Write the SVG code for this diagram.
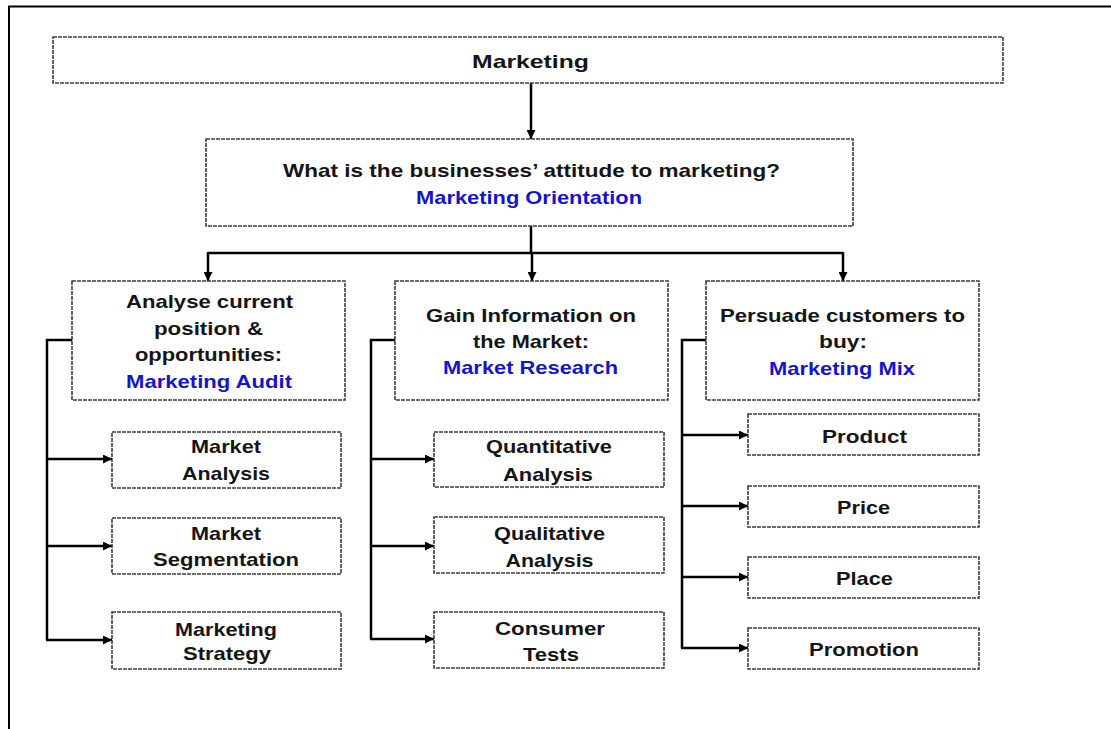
<svg xmlns="http://www.w3.org/2000/svg" width="1111" height="729" viewBox="0 0 1111 729">
<style>
.box{fill:#fff;stroke:#3c3c3c;stroke-width:1.6;stroke-dasharray:4 1}
.t{font-family:"Liberation Sans",Arial,sans-serif;font-weight:bold;font-size:19px;fill:#151515;text-anchor:middle}
.b{fill:#1515cc}
.c{fill:none;stroke:#000;stroke-width:2.5}
.a{marker-end:url(#ah)}
</style>
<defs>
<marker id="ah" viewBox="0 0 10 10" refX="10" refY="5" markerWidth="9" markerHeight="9" markerUnits="userSpaceOnUse" orient="auto">
<path d="M0,0 L10,5 L0,10 z" fill="#000"/>
</marker>
</defs>
<rect width="1111" height="729" fill="#fff"/>
<path d="M8,6.5 H1111 M9,6 V729" stroke="#000" stroke-width="2" fill="none"/>

<g id="connectors">
<path class="c a" d="M531,83 V139"/>
<path class="c" d="M531,226 V253 M208,253 H843"/>
<path class="c a" d="M208,252 V281"/>
<path class="c a" d="M532,252 V281"/>
<path class="c a" d="M843,252 V281"/>
<path class="c" d="M72,340 H47 V640"/>
<path class="c a" d="M47,459 H112"/>
<path class="c a" d="M47,546 H112"/>
<path class="c a" d="M46,640 H112"/>
<path class="c" d="M395,340 H371 V639"/>
<path class="c a" d="M371,459 H434"/>
<path class="c a" d="M371,546 H434"/>
<path class="c a" d="M370,639 H434"/>
<path class="c" d="M706,340 H682 V648"/>
<path class="c a" d="M682,435 H748"/>
<path class="c a" d="M682,506 H748"/>
<path class="c a" d="M682,577 H748"/>
<path class="c a" d="M681,648 H748"/>
</g>

<g id="marketing">
<rect class="box" x="53" y="37" width="950" height="46"/>
<text class="t" x="530.5" y="68" font-size="21" textLength="117" lengthAdjust="spacingAndGlyphs">Marketing</text>
</g>
<g id="orientation">
<rect class="box" x="206" y="139" width="647" height="87"/>
<text class="t" x="531.5" y="177" textLength="497" lengthAdjust="spacingAndGlyphs">What is the businesses’ attitude to marketing?</text>
<text class="t b" x="529" y="204" textLength="226" lengthAdjust="spacingAndGlyphs">Marketing Orientation</text>
</g>

<g id="audit">
<rect class="box" x="72" y="281" width="273" height="119"/>
<text class="t" x="209.5" y="308" textLength="167" lengthAdjust="spacingAndGlyphs">Analyse current</text>
<text class="t" x="208.5" y="335" textLength="109" lengthAdjust="spacingAndGlyphs">position &amp;</text>
<text class="t" x="208.5" y="361" textLength="147" lengthAdjust="spacingAndGlyphs">opportunities:</text>
<text class="t b" x="209" y="388" textLength="166" lengthAdjust="spacingAndGlyphs">Marketing Audit</text>
</g>
<g id="research">
<rect class="box" x="395" y="281" width="273" height="119"/>
<text class="t" x="531" y="322" textLength="210" lengthAdjust="spacingAndGlyphs">Gain Information on</text>
<text class="t" x="531" y="348" textLength="116" lengthAdjust="spacingAndGlyphs">the Market:</text>
<text class="t b" x="530.5" y="374" textLength="175" lengthAdjust="spacingAndGlyphs">Market Research</text>
</g>
<g id="mix">
<rect class="box" x="706" y="281" width="273" height="119"/>
<text class="t" x="842.5" y="322" textLength="245" lengthAdjust="spacingAndGlyphs">Persuade customers to</text>
<text class="t" x="843" y="348" textLength="48" lengthAdjust="spacingAndGlyphs">buy:</text>
<text class="t b" x="842" y="375" textLength="146" lengthAdjust="spacingAndGlyphs">Marketing Mix</text>
</g>

<g id="market-analysis">
<rect class="box" x="112" y="432" width="229" height="56"/>
<text class="t" x="226" y="453" textLength="70" lengthAdjust="spacingAndGlyphs">Market</text>
<text class="t" x="226" y="480" textLength="88" lengthAdjust="spacingAndGlyphs">Analysis</text>
</g>
<g id="market-segmentation">
<rect class="box" x="112" y="518" width="229" height="56"/>
<text class="t" x="226" y="540" textLength="70" lengthAdjust="spacingAndGlyphs">Market</text>
<text class="t" x="226" y="566" textLength="146" lengthAdjust="spacingAndGlyphs">Segmentation</text>
</g>
<g id="marketing-strategy">
<rect class="box" x="112" y="612" width="229" height="57"/>
<text class="t" x="226" y="636" textLength="102" lengthAdjust="spacingAndGlyphs">Marketing</text>
<text class="t" x="227" y="660" textLength="88" lengthAdjust="spacingAndGlyphs">Strategy</text>
</g>

<g id="quantitative">
<rect class="box" x="434" y="432" width="230" height="55"/>
<text class="t" x="549" y="453" textLength="126" lengthAdjust="spacingAndGlyphs">Quantitative</text>
<text class="t" x="548" y="481" textLength="90" lengthAdjust="spacingAndGlyphs">Analysis</text>
</g>
<g id="qualitative">
<rect class="box" x="434" y="517" width="230" height="56"/>
<text class="t" x="549.5" y="540" textLength="111" lengthAdjust="spacingAndGlyphs">Qualitative</text>
<text class="t" x="549.5" y="567" textLength="88" lengthAdjust="spacingAndGlyphs">Analysis</text>
</g>
<g id="consumer-tests">
<rect class="box" x="434" y="612" width="230" height="56"/>
<text class="t" x="550" y="635" textLength="110" lengthAdjust="spacingAndGlyphs">Consumer</text>
<text class="t" x="551" y="661" textLength="56" lengthAdjust="spacingAndGlyphs">Tests</text>
</g>

<g id="product">
<rect class="box" x="748" y="414" width="231" height="41"/>
<text class="t" x="864.5" y="443" textLength="85" lengthAdjust="spacingAndGlyphs">Product</text>
</g>
<g id="price">
<rect class="box" x="748" y="486" width="231" height="41"/>
<text class="t" x="863.5" y="514" textLength="53" lengthAdjust="spacingAndGlyphs">Price</text>
</g>
<g id="place">
<rect class="box" x="748" y="557" width="231" height="41"/>
<text class="t" x="864.5" y="585" textLength="57" lengthAdjust="spacingAndGlyphs">Place</text>
</g>
<g id="promotion">
<rect class="box" x="748" y="628" width="231" height="41"/>
<text class="t" x="864" y="656" textLength="110" lengthAdjust="spacingAndGlyphs">Promotion</text>
</g>
</svg>
